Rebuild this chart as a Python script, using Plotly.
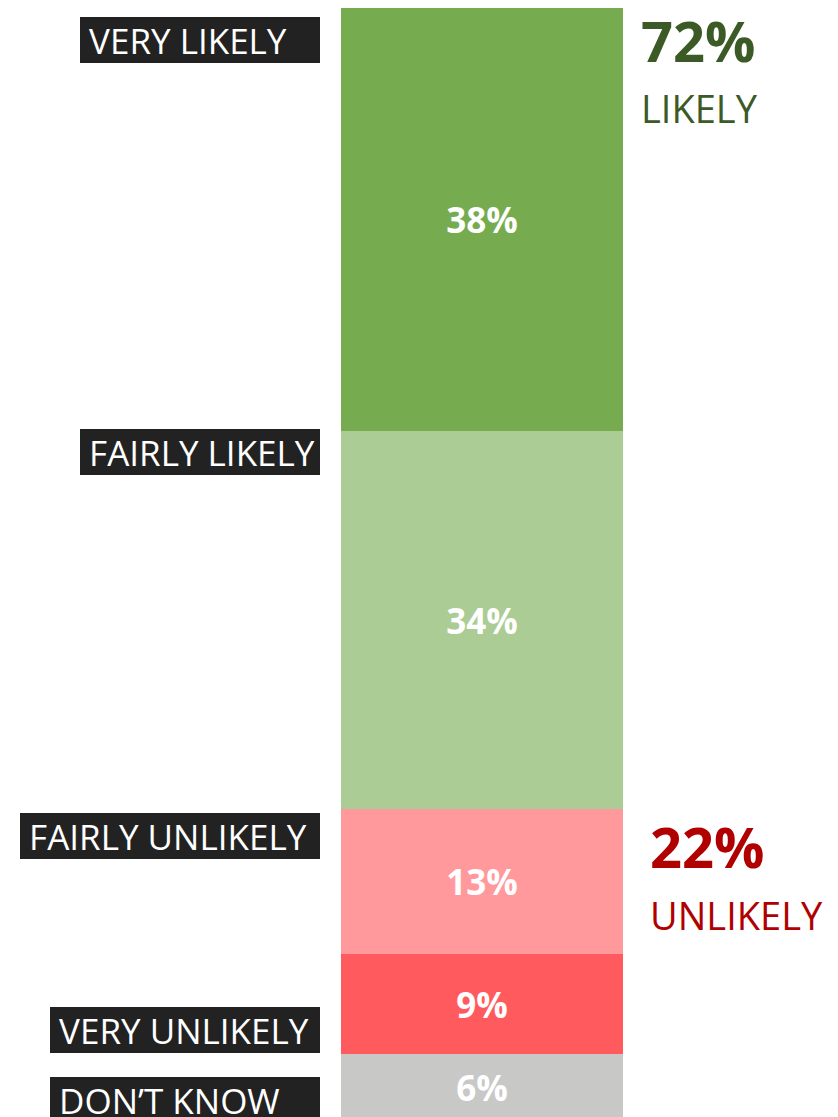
import plotly.graph_objects as go

categories = ["VERY LIKELY", "FAIRLY LIKELY", "FAIRLY UNLIKELY", "VERY UNLIKELY", "DON\u2019T KNOW"]
values = [38, 34, 13, 9, 6]
colors = ["#76AB50", "#ABCC95", "#FF999C", "#FF5B5E", "#C8C8C7"]
group_names = ["LIKELY", "UNLIKELY"]
group_members = [[0, 1], [2, 3]]
group_colors = ["#3C5A26", "#B00000"]

# styling / placement (pixels, figure coordinates; page adds 8px body margin)
label_box_widths = [240, 240, 300, 270, 270]
label_yshifts = [-9, 2, -4, -53, -23]
W, H = 838, 1117
bar_left, bar_right = 333, 615
label_right = 312
px_per_unit = 11.13

fig = go.Figure()
for cat, v, c in zip(categories, values, colors):
    fig.add_trace(go.Bar(
        x=[0], y=[v], name=cat, width=1,
        marker=dict(color=c, line=dict(width=0)),
        texttemplate="%{y}%", textposition="inside", insidetextanchor="middle",
        textfont=dict(color="white", size=35, family="Open Sans", weight="bold"),
        constraintext="none", hoverinfo="skip",
    ))

scale = bar_right - bar_left
xr = [-0.5 - bar_left / scale, 0.5 + (W - bar_right) / scale]
yr = [H / px_per_unit, 0]

annotations = []
cum = 0
starts = []
for v in values:
    starts.append(cum)
    cum += v
for i, cat in enumerate(categories):
    annotations.append(dict(
        x=label_right / W, xref="paper", xanchor="right",
        y=starts[i], yref="y", yanchor="top", yshift=label_yshifts[i],
        text="\u00a0" + cat, showarrow=False, align="left", valign="middle",
        width=label_box_widths[i], height=46, borderpad=0, borderwidth=0,
        bgcolor="#222222", font=dict(color="white", size=35, family="Open Sans"),
    ))

group_pos = [(631, 32, 100), (640, 37, 106)]
for g, (name, members, col) in enumerate(zip(group_names, group_members, group_colors)):
    total = sum(values[m] for m in members)
    px, s1, s2 = group_pos[g]
    y0 = starts[members[0]]
    annotations.append(dict(
        x=px / W, xref="paper", xanchor="left", y=y0, yref="y", yanchor="middle",
        yshift=-s1, text=f"<b>{total}%</b>", showarrow=False,
        font=dict(color=col, size=56, family="Open Sans"),
    ))
    annotations.append(dict(
        x=px / W, xref="paper", xanchor="left", y=y0, yref="y", yanchor="middle",
        yshift=-s2, text=name, showarrow=False,
        font=dict(color=col, size=38, family="Open Sans"),
    ))

fig.update_layout(
    width=W, height=H, barmode="stack", showlegend=False,
    margin=dict(l=0, r=0, t=0, b=0),
    paper_bgcolor="white", plot_bgcolor="white",
    xaxis=dict(range=xr, visible=False, fixedrange=True),
    yaxis=dict(range=yr, visible=False, fixedrange=True),
    annotations=annotations, bargap=0,
)
fig.write_html("out.html")
